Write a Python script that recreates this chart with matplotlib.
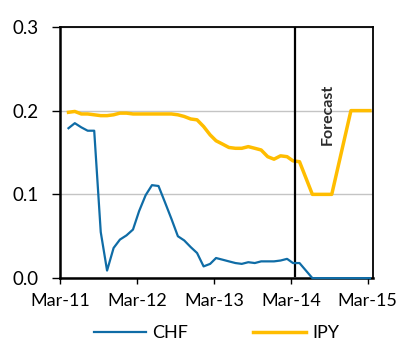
import matplotlib
matplotlib.use("Agg")
import matplotlib.pyplot as plt
import pandas as pd

# Monthly history Mar-2011 .. Mar-2014, then quarterly forecast to Mar-2015
hist_dates = pd.date_range("2011-03-11", periods=37, freq="MS") + pd.Timedelta(days=10)
fcst_dates = pd.to_datetime(["2014-06-11", "2014-09-11", "2014-12-11", "2015-03-11"])
dates = hist_dates.append(fcst_dates)

chf = [0.179, 0.185, 0.180, 0.176, 0.176, 0.055, 0.009, 0.036, 0.046, 0.051,
       0.058, 0.080, 0.099, 0.111, 0.110, 0.091, 0.071, 0.050, 0.045, 0.037,
       0.030, 0.014, 0.017, 0.024, 0.022, 0.020, 0.018, 0.017, 0.019, 0.018,
       0.020, 0.020, 0.020, 0.021, 0.023, 0.018, 0.018,
       0.000, 0.000, 0.000, 0.000]

jpy = [0.198, 0.199, 0.196, 0.196, 0.195, 0.194, 0.194, 0.195, 0.197, 0.197,
       0.196, 0.196, 0.196, 0.196, 0.196, 0.196, 0.196, 0.195, 0.193, 0.190,
       0.189, 0.181, 0.171, 0.164, 0.160, 0.156, 0.155, 0.155, 0.157, 0.155,
       0.153, 0.145, 0.142, 0.146, 0.145, 0.140, 0.139,
       0.100, 0.100, 0.200, 0.200]

series_labels = ["CHF", "IPY"]
tick_years = [2011, 2012, 2013, 2014, 2015]
tick_labels = ["Mar-11", "Mar-12", "Mar-13", "Mar-14", "Mar-15"]
y_ticks = [0.0, 0.1, 0.2, 0.3]
forecast_start = pd.Timestamp("2014-03-22")

plt.rcParams["font.family"] = ["Lato", "DejaVu Sans"]

fig = plt.figure(figsize=(3.99, 3.40), dpi=100)
ax = fig.add_axes([0.150, 0.182, 0.785, 0.739])

ax.plot(dates, chf, color="#0f6ca6", lw=1.6, label=series_labels[0],
        zorder=5, clip_on=False)
ax.plot(dates, jpy, color="#ffbd00", lw=2.5, label=series_labels[1], zorder=4)

ax.axvline(forecast_start, color="black", lw=1.6, ymax=1.0, ymin=0.01, zorder=4)
ax.text(pd.Timestamp("2014-08-25"), 0.195, "Forecast", rotation=90,
        fontsize=11.5, fontweight="bold", color="#2b2b2b",
        ha="center", va="center")

ax.set_ylim(0, 0.3)
ax.set_yticks(y_ticks)
ax.set_yticklabels([f"{v:.1f}" for v in y_ticks])
ax.set_xlim(pd.Timestamp("2011-03-01"), pd.Timestamp("2015-03-26"))
ax.set_xticks([pd.Timestamp(f"{y}-03-01") for y in tick_years])
ax.set_xticklabels(tick_labels)

ax.grid(axis="y", color="#c4c4c4", lw=1.0)
ax.set_axisbelow(True)
for side in ["left", "bottom", "top", "right"]:
    ax.spines[side].set_color("black")
ax.spines["left"].set_linewidth(1.8)
ax.spines["bottom"].set_linewidth(1.8)
ax.spines["top"].set_linewidth(1.3)
ax.spines["right"].set_linewidth(1.3)

ax.tick_params(axis="y", direction="out", length=6, width=1, labelsize=13.5, pad=9)
ax.tick_params(axis="x", direction="out", length=4, width=1, labelsize=13, pad=7)

ax.legend(loc="center", bbox_to_anchor=(0.5, -0.22), ncol=2,
          frameon=False, fontsize=13, handlelength=2.9, columnspacing=3.6,
          handletextpad=0.35)

fig.savefig("out.png", dpi=100)
